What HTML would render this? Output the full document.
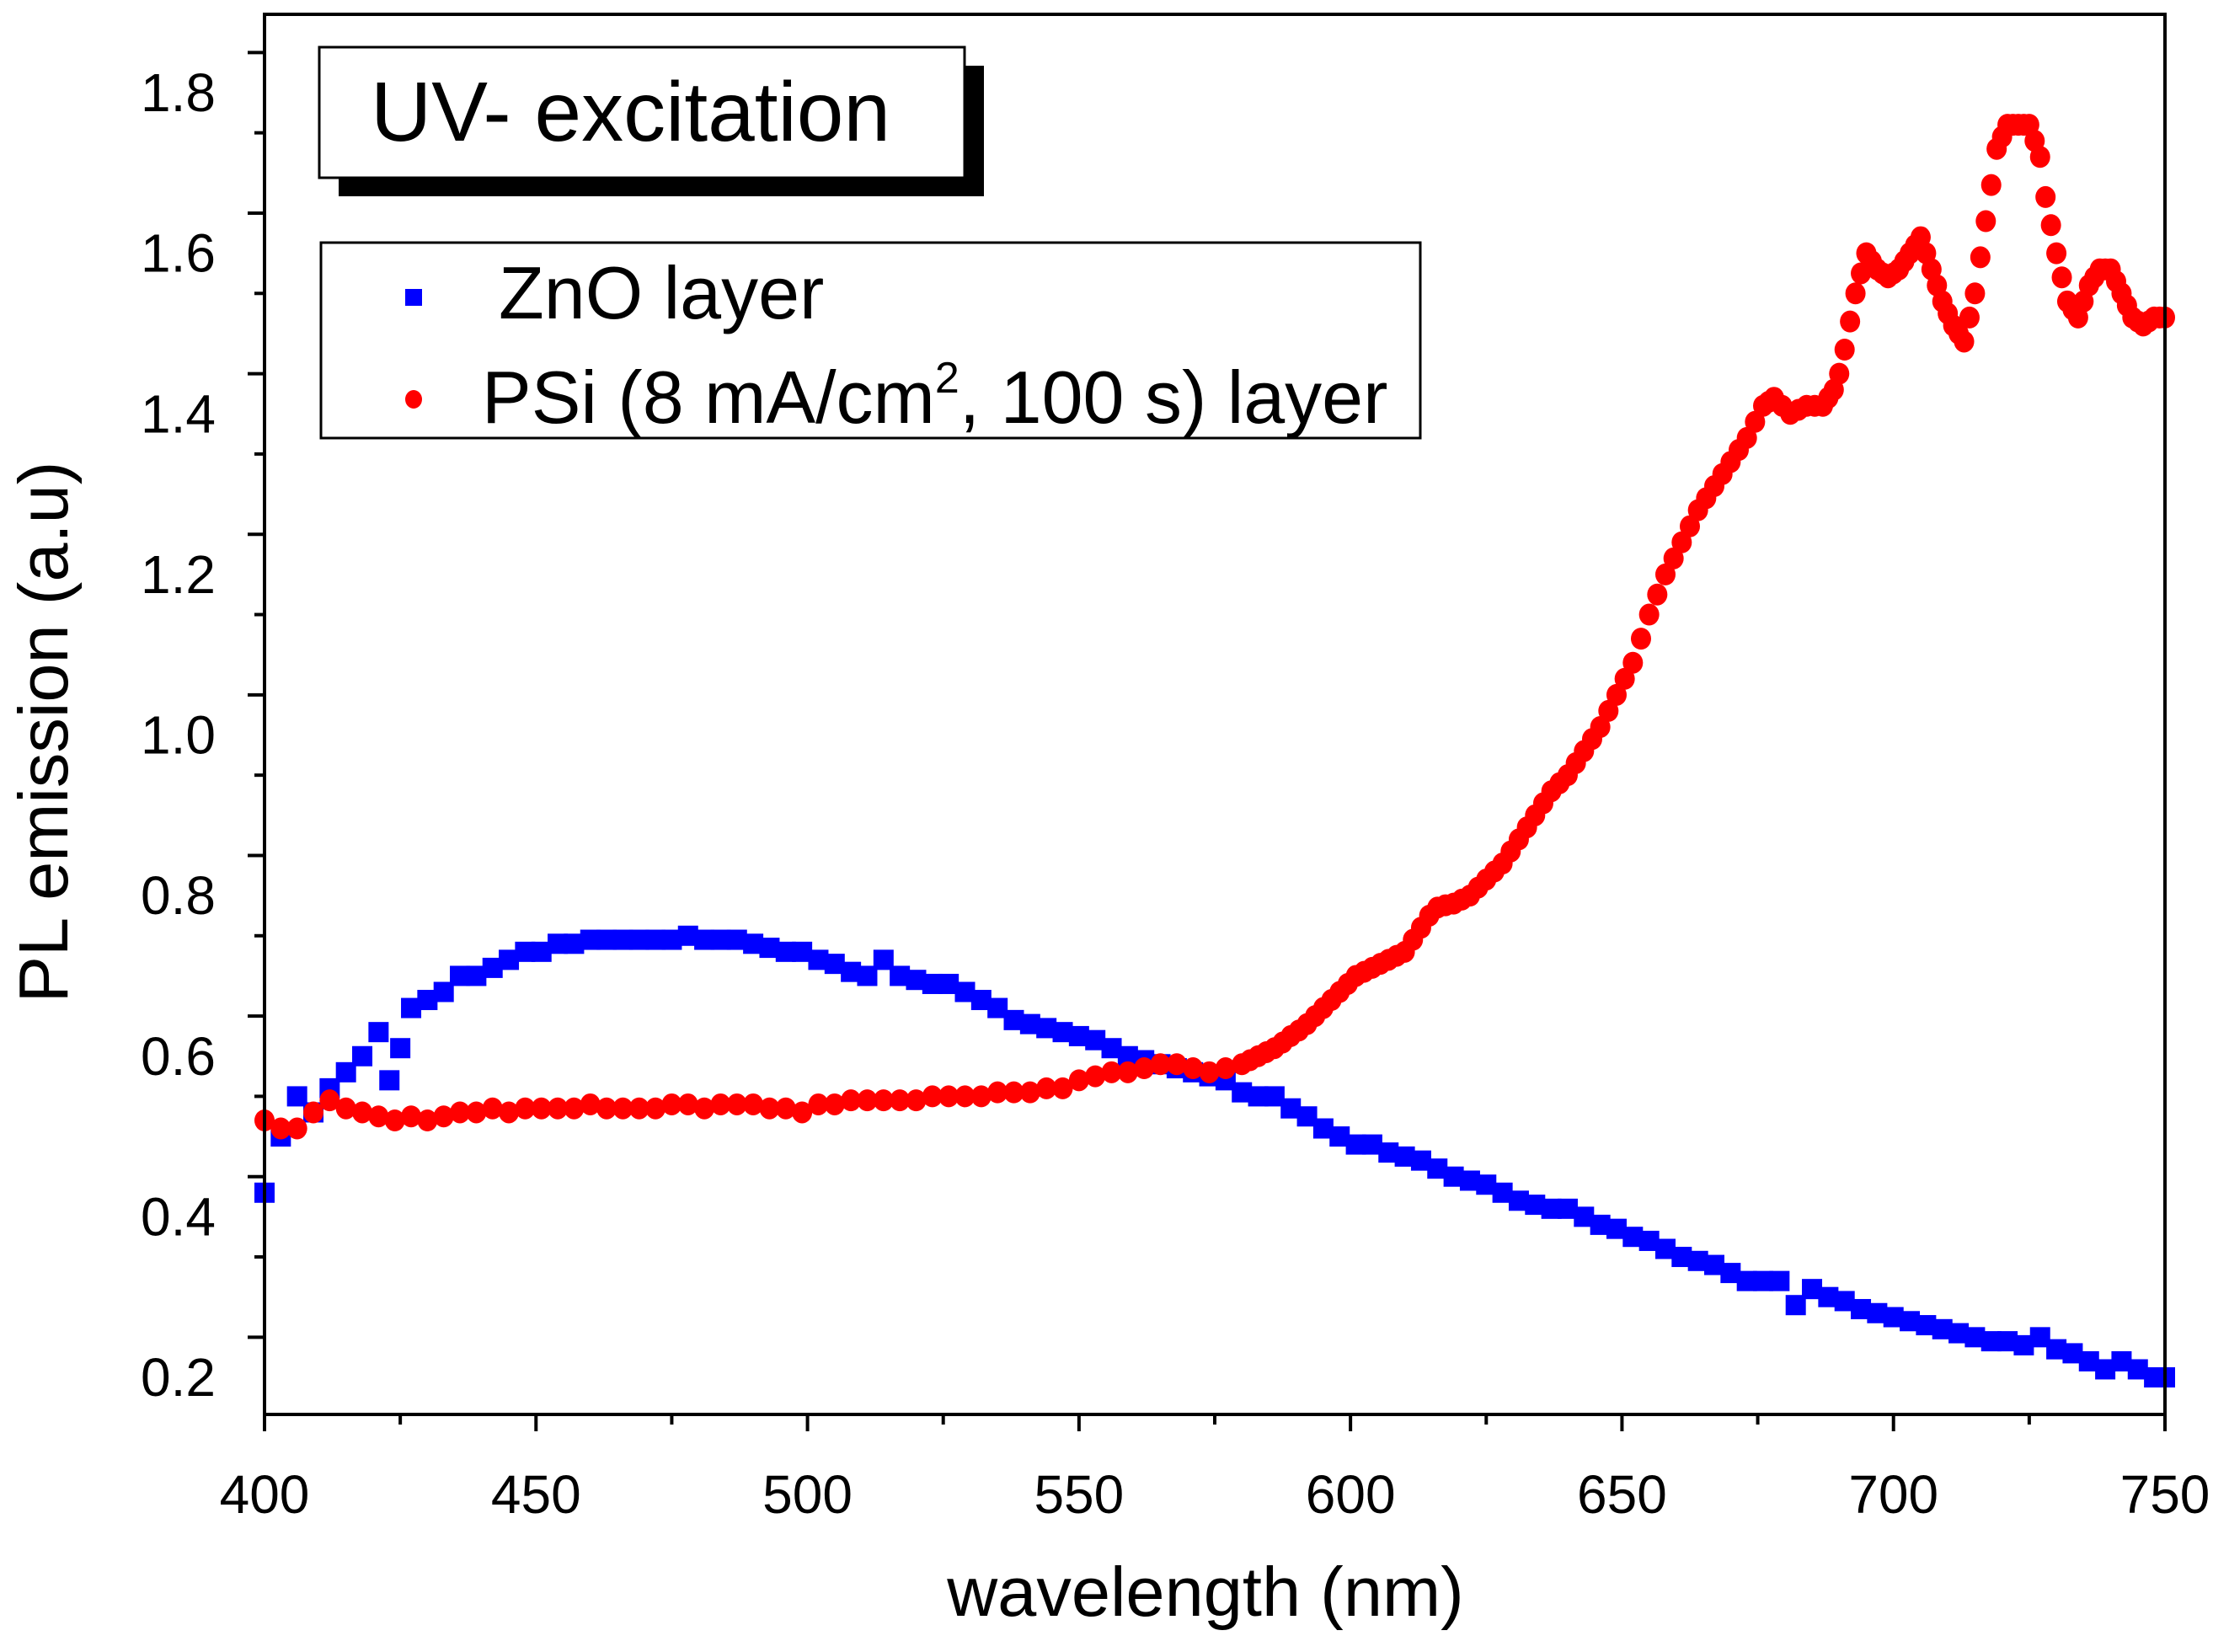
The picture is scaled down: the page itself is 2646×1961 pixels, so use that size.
<!DOCTYPE html>
<html><head><meta charset="utf-8"><style>
html,body{margin:0;padding:0;background:#fff;}
svg{display:block;font-family:"Liberation Sans",Arial,sans-serif;}
</style></head><body>
<svg id="chart" width="2646" height="1961" viewBox="0 0 2646 1961">
<rect x="0" y="0" width="2646" height="1961" fill="#fff"/>
<g id="marks"></g>
<g id="axes"></g>
<g>
<rect x="402" y="78" width="766" height="155" fill="#000"/>
<rect x="379" y="56" width="766" height="155" fill="#fff" stroke="#000" stroke-width="3"/>
<text x="440" y="167" font-size="100">UV- excitation</text>
</g>
<g>
<rect x="381" y="288" width="1305" height="232" fill="#fff" stroke="#000" stroke-width="3"/>
<rect x="481" y="343" width="20" height="20" fill="#0000ff"/>
<text x="592" y="378" font-size="88">ZnO layer</text>
<ellipse cx="491" cy="474" rx="10" ry="11" fill="#ff0000"/>
<text x="572" y="502" font-size="88">PSi (8 mA/cm<tspan dy="-36" font-size="52">2</tspan><tspan dy="36">, 100 s) layer</tspan></text>
</g>
<text x="1431" y="1918" font-size="83" text-anchor="middle">wavelength (nm)</text>
<text transform="translate(80,869) rotate(-90)" font-size="83" text-anchor="middle">PL emission (a.u)</text>
</svg>
<script>
const xTicks=[400,450,500,550,600,650,700,750];
const yTicks=[0.2,0.4,0.6,0.8,1.0,1.2,1.4,1.6,1.8];
const yTickLabels=["0.2","0.4","0.6","0.8","1.0","1.2","1.4","1.6","1.8"];
const znoX=[400,403,406,409,412,415,418,421,423,425,427,430,433,436,439,442,445,448,451,454,457,460,463,466,469,472,475,478,481,484,487,490,493,496,499,502,505,508,511,514,517,520,523,526,529,532,535,538,541,544,547,550,553,556,559,562,565,568,571,574,577,580,583,586,589,592,595,598,601,604,607,610,613,616,619,622,625,628,631,634,637,640,643,646,649,652,655,658,661,664,667,670,673,676,679,682,685,688,691,694,697,700,703,706,709,712,715,718,721,724,727,730,733,736,739,742,745,748,750];
const znoY=[0.43,0.50,0.55,0.53,0.56,0.58,0.60,0.63,0.57,0.61,0.66,0.67,0.68,0.70,0.70,0.71,0.72,0.73,0.73,0.74,0.74,0.745,0.745,0.745,0.745,0.745,0.745,0.75,0.745,0.745,0.745,0.74,0.735,0.73,0.73,0.72,0.715,0.705,0.70,0.72,0.70,0.695,0.69,0.69,0.68,0.67,0.66,0.645,0.64,0.635,0.63,0.625,0.62,0.61,0.60,0.595,0.59,0.585,0.58,0.575,0.57,0.555,0.55,0.55,0.535,0.525,0.51,0.50,0.49,0.49,0.48,0.475,0.47,0.46,0.45,0.445,0.44,0.43,0.42,0.415,0.41,0.41,0.40,0.39,0.385,0.375,0.37,0.36,0.35,0.345,0.34,0.33,0.32,0.32,0.32,0.29,0.31,0.30,0.295,0.285,0.28,0.275,0.27,0.265,0.26,0.255,0.25,0.245,0.245,0.24,0.25,0.235,0.23,0.22,0.21,0.22,0.21,0.20,0.20];
const psiX=[400,403,406,409,412,415,418,421,424,427,430,433,436,439,442,445,448,451,454,457,460,463,466,469,472,475,478,481,484,487,490,493,496,499,502,505,508,511,514,517,520,523,526,529,532,535,538,541,544,547,550,553,556,559,562,565,568,571,574,577,
580,581.5,583,584.5,586,587.5,589,590.5,592,593.5,595,596.5,598,599.5,601,602.5,604,605.5,607,608.5,610,611.5,613,614.5,616,617.5,619,620.5,622,623.5,625,626.5,628,629.5,631,632.5,634,635.5,637,638.5,640,641.5,643,644.5,646,647.5,649,650.5,652,653.5,655,656.5,658,659.5,661,662.5,664,665.5,667,668.5,670,671.5,673,674.5,676,677,678,679.5,681,682.5,684,685.5,687,688,689,690,691,692,693,694,695,696,697,698,699,700,701,702,703,704,705,706,707,708,709,710,711,712,713,714,715,716,717,718,719,720,721,722,723,724,725,726,727,728,729,730,731,732,733,734,735,736,737,738,739,740,741,742,743,744,745,746,747,748,749,750];
const psiY=[0.52,0.51,0.51,0.53,0.545,0.535,0.53,0.525,0.52,0.525,0.52,0.525,0.53,0.53,0.535,0.53,0.535,0.535,0.535,0.535,0.54,0.535,0.535,0.535,0.535,0.54,0.54,0.535,0.54,0.54,0.54,0.535,0.535,0.53,0.54,0.54,0.545,0.545,0.545,0.545,0.545,0.55,0.55,0.55,0.55,0.555,0.555,0.555,0.56,0.56,0.57,0.575,0.58,0.58,0.585,0.59,0.59,0.585,0.58,0.585,
0.59,0.595,0.60,0.605,0.61,0.617,0.625,0.632,0.64,0.65,0.66,0.67,0.68,0.69,0.70,0.705,0.71,0.715,0.72,0.725,0.73,0.745,0.76,0.775,0.785,0.788,0.79,0.795,0.80,0.81,0.82,0.83,0.84,0.855,0.87,0.885,0.90,0.915,0.93,0.94,0.95,0.965,0.98,0.995,1.01,1.03,1.05,1.07,1.09,1.12,1.15,1.175,1.20,1.22,1.24,1.26,1.28,1.295,1.31,1.325,1.34,1.355,1.37,1.39,1.41,1.415,1.42,1.41,1.40,1.405,1.41,1.41,1.41,1.42,1.43,1.45,1.48,1.515,1.55,1.575,1.60,1.59,1.58,1.575,1.57,1.575,1.58,1.59,1.60,1.61,1.62,1.60,1.58,1.56,1.54,1.525,1.51,1.50,1.49,1.52,1.55,1.595,1.64,1.685,1.73,1.745,1.76,1.76,1.76,1.76,1.76,1.74,1.72,1.67,1.635,1.60,1.57,1.54,1.53,1.52,1.54,1.56,1.57,1.58,1.58,1.58,1.565,1.55,1.535,1.52,1.515,1.51,1.515,1.52,1.52,1.52];

const NS="http://www.w3.org/2000/svg";
const L=314,R=2570,T=17,B=1679;
function sx(v){return L+(v-400)/(750-400)*(R-L);}
function sy(v){return 1635-(v-0.2)/(1.8-0.2)*(1635-110);}
function mk(tag,attrs,parent){const e=document.createElementNS(NS,tag);for(const k in attrs)e.setAttribute(k,attrs[k]);parent.appendChild(e);return e;}
const marks=document.getElementById('marks');
const axes=document.getElementById('axes');
for(let i=0;i<znoX.length;i++){
  const r=mk('rect',{x:sx(znoX[i])-12,y:sy(znoY[i])-12,width:24,height:24,fill:'#0000ff'},marks);
  
  
}
for(let i=0;i<psiX.length;i++){
  const c=mk('ellipse',{cx:sx(psiX[i]),cy:sy(psiY[i]),rx:12,ry:13,fill:'#ff0000'},marks);
  
  
}
const fr=mk('rect',{x:L,y:T,width:R-L,height:B-T,fill:'none',stroke:'#000','stroke-width':4},axes);


for(let v=400;v<=750;v+=25){
  const major=v%50===0;
  const t=mk('line',{x1:sx(v),x2:sx(v),y1:B,y2:B+(major?20:12),stroke:'#000','stroke-width':4},axes);
  
  
}
xTicks.forEach(v=>{
  const t=mk('text',{x:sx(v),y:1796,'font-size':64,'text-anchor':'middle'},axes);
  t.textContent=String(v);
  
  
});
for(let k=0;k<=18;k++){
  const v=0.15+k*0.1;
  const y=sy(v);
  if(y<T||y>B)continue;
  const major=(k%2===1);
  const t=mk('line',{x1:L-(major?20:12),x2:L,y1:y,y2:y,stroke:'#000','stroke-width':4},axes);
  
  
}
yTicks.forEach((v,i)=>{
  const t=mk('text',{x:256,y:sy(v)+22,'font-size':64,'text-anchor':'end'},axes);
  t.textContent=yTickLabels[i];
  
  
});
</script>
</body></html>
